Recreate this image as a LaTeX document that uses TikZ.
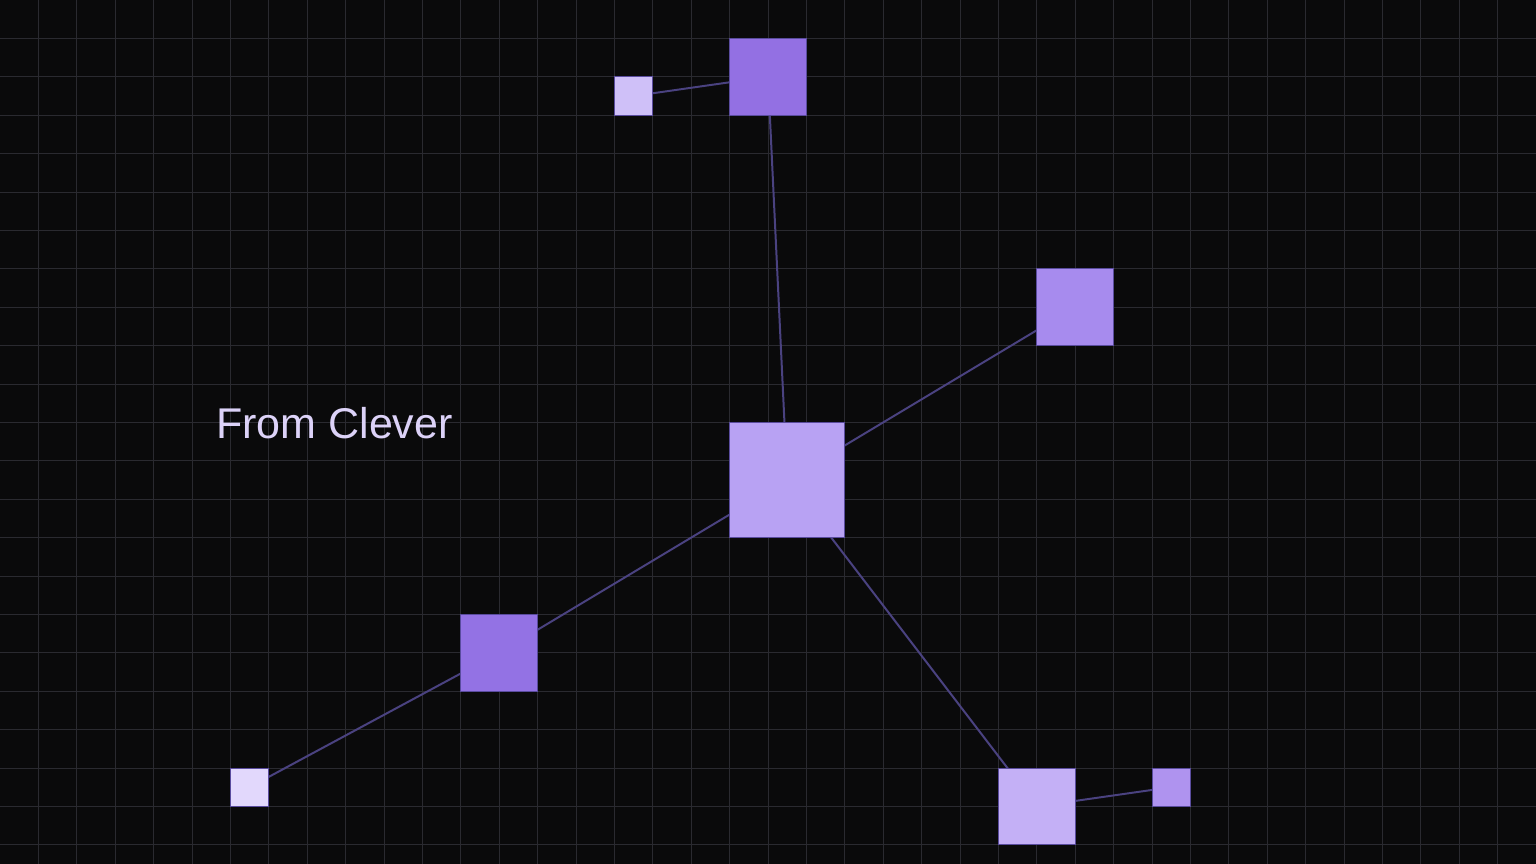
\documentclass[tikz,border=0pt]{standalone}
\usepackage{fontspec}
\setmainfont{Liberation Sans}
\definecolor{bg}{HTML}{0A0A0B}
\definecolor{gridc}{HTML}{2A2A30}
\definecolor{edgec}{HTML}{4A4280}
\definecolor{bordc}{HTML}{5A4C9E}
\definecolor{txtc}{HTML}{DCD2F8}
\definecolor{cA}{HTML}{CFC0F8}
\definecolor{cB}{HTML}{9370E3}
\definecolor{cC}{HTML}{A78BEE}
\definecolor{cD}{HTML}{B8A2F3}
\definecolor{cE}{HTML}{9372E4}
\definecolor{cF}{HTML}{E2D8FC}
\definecolor{cG}{HTML}{C4B0F6}
\definecolor{cH}{HTML}{AF93EF}
\tikzset{
  sq/.style={draw=bordc, line width=0.8pt, inner sep=0pt, outer sep=0pt},
  sqs/.style={sq, minimum size=38.4pt},
  sqm/.style={sq, minimum size=76.8pt},
  sql/.style={sq, minimum size=115.2pt},
  link/.style={draw=edgec, line width=2pt},
}
\begin{document}
\begin{tikzpicture}[x=1pt,y=-1pt]
\fill[bg] (0,0) rectangle (1536,864);
\useasboundingbox (0,0) rectangle (1536,864);
\foreach \i in {1,...,39} \draw[gridc, line width=1pt] (\i*38.4,0) -- (\i*38.4,864);
\foreach \j in {1,...,22} \draw[gridc, line width=1pt] (0,\j*38.4) -- (1536,\j*38.4);
% nodes (positions)
\coordinate (pA) at (633.6,96);
\coordinate (pB) at (768,76.8);
\coordinate (pC) at (1075.2,307.2);
\coordinate (pD) at (787.2,480);
\coordinate (pE) at (499.2,652.8);
\coordinate (pF) at (249.6,787.2);
\coordinate (pG) at (1036.8,806.4);
\coordinate (pH) at (1171.2,787.2);
% connectors (center to center, behind squares)
\draw[link] (pA) -- (pB);
\draw[link] (pB) -- (pD);
\draw[link] (pD) -- (pC);
\draw[link] (pD) -- (pE);
\draw[link] (pE) -- (pF);
\draw[link] (pD) -- (pG);
\draw[link] (pG) -- (pH);
% squares
\node[sqs, fill=cA] (A) at (pA) {};
\node[sqm, fill=cB] (B) at (pB) {};
\node[sqm, fill=cC] (C) at (pC) {};
\node[sql, fill=cD] (D) at (pD) {};
\node[sqm, fill=cE] (E) at (pE) {};
\node[sqs, fill=cF] (F) at (pF) {};
\node[sqm, fill=cG] (G) at (pG) {};
\node[sqs, fill=cH] (H) at (pH) {};
\node[anchor=base west, inner sep=0pt, text=txtc, font=\fontsize{43}{50}\selectfont] (T) at (216,438) {From Clever};
\end{tikzpicture}
\end{document}
